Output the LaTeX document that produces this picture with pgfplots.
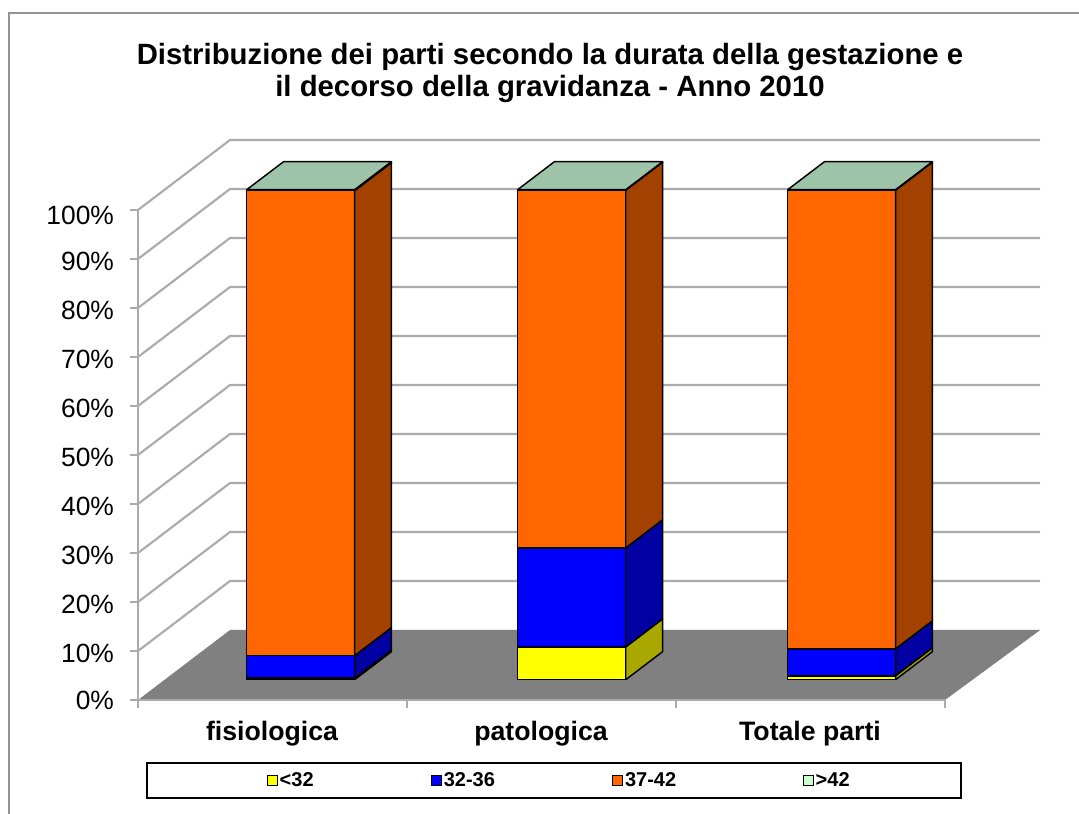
\documentclass[border=0pt]{standalone}
\usepackage{pgfplots}
\pgfplotsset{compat=1.18}
\usepackage{fontspec}
\setmainfont{Liberation Sans}
\definecolor{gridc}{HTML}{ABABAB}
\definecolor{floorc}{HTML}{808080}
\definecolor{ora}{HTML}{FF6600}
\definecolor{oras}{HTML}{A34100}
\definecolor{blu}{HTML}{0000FF}
\definecolor{blus}{HTML}{0000A3}
\definecolor{yel}{HTML}{FFFF00}
\definecolor{yels}{HTML}{A8A800}
\definecolor{gre}{HTML}{CCFFCC}
\definecolor{topc}{HTML}{9DC3A9}
% one stacked segment: x0, x1, z0, z1, front colour, side colour
\newcommand{\seg}[6]{%
  \addplot3[fill=#5,draw=black,line width=1.1pt,line join=round,forget plot] coordinates {(#1,0.29,#3) (#2,0.29,#3) (#2,0.29,#4) (#1,0.29,#4) (#1,0.29,#3)};
  \addplot3[fill=#6,draw=black,line width=1.1pt,line join=round,forget plot] coordinates {(#2,0.29,#3) (#2,0.69,#3) (#2,0.69,#4) (#2,0.29,#4) (#2,0.29,#3)};
}
\newcommand{\bartop}[2]{%
  \addplot3[fill=topc,draw=black,line width=1.1pt,line join=round,forget plot] coordinates {(#1,0.29,100) (#2,0.29,100) (#2,0.69,100) (#1,0.69,100) (#1,0.29,100)};
}
\newcommand{\gridl}[1]{%
  \addplot3[gridc,line width=1.6pt,forget plot] coordinates {(0,0,#1) (0,1,#1) (3.012,1,#1)};
}
\newcommand{\ztk}[1]{\draw[gridc,line width=1.2pt] (axis cs:0,0,#1) -- ++(-6pt,0pt);}
\newcommand{\xtk}[1]{\draw[gridc,line width=1.2pt] (axis cs:#1,0,0) -- ++(0pt,-6pt);}
\begin{document}
\begin{tikzpicture}[x=0.75pt,y=0.75pt]
\useasboundingbox (0,0) rectangle (1079,814);
\draw[color=gray!85,line width=1.5pt] (9,-5) -- (9,801) -- (1085,801);
\node[align=center,font=\bfseries\fontsize{22}{24}\selectfont] at (550,741.5) {Distribuzione dei parti secondo la durata della gestazione e\\il decorso della gravidanza - Anno 2010};
\begin{axis}[
  at={(138*0.75pt,114*0.75pt)},anchor=origin,
  x={(201.75pt,0pt)},y={(69pt,52.5pt)},z={(0pt,3.675pt)},
  xmin=0,xmax=3,ymin=0,ymax=1,zmin=0,zmax=100,
  clip=false,
  axis x line*=bottom,axis y line*=none,axis z line*=left,
  axis line style={draw=none},
  major tick length=0pt,
  xtick={0,1,2,3},xticklabels={},
  extra x ticks={0.5,1.5,2.5},
  extra x tick labels={fisiologica,patologica,Totale parti},
  extra x tick style={major tick length=0pt,tick label style={font=\bfseries\fontsize{20}{20}\selectfont,xshift=6pt,yshift=-12pt}},
  ytick=\empty,
  ztick={0,10,...,100},
  zticklabels={0\%,10\%,20\%,30\%,40\%,50\%,60\%,70\%,80\%,90\%,100\%},
  zticklabel style={font=\fontsize{19.8}{20}\selectfont,xshift=-14.5pt,yshift=6pt},
  legend columns=4,
  legend style={at={(0.469,-0.144)},anchor=center,draw=none,fill=none,font=\bfseries\fontsize{15}{16}\selectfont,
    /tikz/column 2/.style={column sep=86pt},
    /tikz/column 4/.style={column sep=86pt},
    /tikz/column 6/.style={column sep=93pt}},
]
\gridl{10}\gridl{20}\gridl{30}\gridl{40}\gridl{50}\gridl{60}\gridl{70}\gridl{80}\gridl{90}\gridl{100}
\addplot3[fill=floorc,draw=none,forget plot] coordinates {(0,0,0) (3,0,0) (3.012,1,0) (0,1,0) (0,0,0)};
\draw[gridc,line width=2pt] (axis cs:0,0,100) -- (axis cs:0,0,0);
\draw[gridc,line width=1.6pt] (axis cs:0,0,0) -- (axis cs:3,0,0);
\ztk{0}\ztk{10}\ztk{20}\ztk{30}\ztk{40}\ztk{50}\ztk{60}\ztk{70}\ztk{80}\ztk{90}\ztk{100}
\xtk{0}\xtk{1}\xtk{2}\xtk{3}
% fisiologica
\seg{0.305}{0.706}{0}{0.3}{yel}{yels}
\seg{0.305}{0.706}{0.3}{4.9}{blu}{blus}
\seg{0.305}{0.706}{4.9}{99.8}{ora}{oras}
\seg{0.305}{0.706}{99.8}{100}{gre}{topc}
\bartop{0.305}{0.706}
% patologica
\seg{1.312}{1.714}{0}{6.7}{yel}{yels}
\seg{1.312}{1.714}{6.7}{26.9}{blu}{blus}
\seg{1.312}{1.714}{26.9}{99.9}{ora}{oras}
\seg{1.312}{1.714}{99.9}{100}{gre}{topc}
\bartop{1.312}{1.714}
% totale
\seg{2.316}{2.717}{0}{0.8}{yel}{yels}
\seg{2.316}{2.717}{0.8}{6.3}{blu}{blus}
\seg{2.316}{2.717}{6.3}{99.9}{ora}{oras}
\seg{2.316}{2.717}{99.9}{100}{gre}{topc}
\bartop{2.316}{2.717}
\addlegendimage{only marks,mark=square*,mark size=3.8pt,mark options={fill=yel,draw=black}}
\addlegendimage{only marks,mark=square*,mark size=3.8pt,mark options={fill=blu,draw=black}}
\addlegendimage{only marks,mark=square*,mark size=3.8pt,mark options={fill=ora,draw=black}}
\addlegendimage{only marks,mark=square*,mark size=3.8pt,mark options={fill=gre,draw=none}}
\legend{<32,32-36,37-42,>42}
\end{axis}
\draw[black,line width=1.5pt] (147,16) rectangle (961,51);
\end{tikzpicture}
\end{document}
